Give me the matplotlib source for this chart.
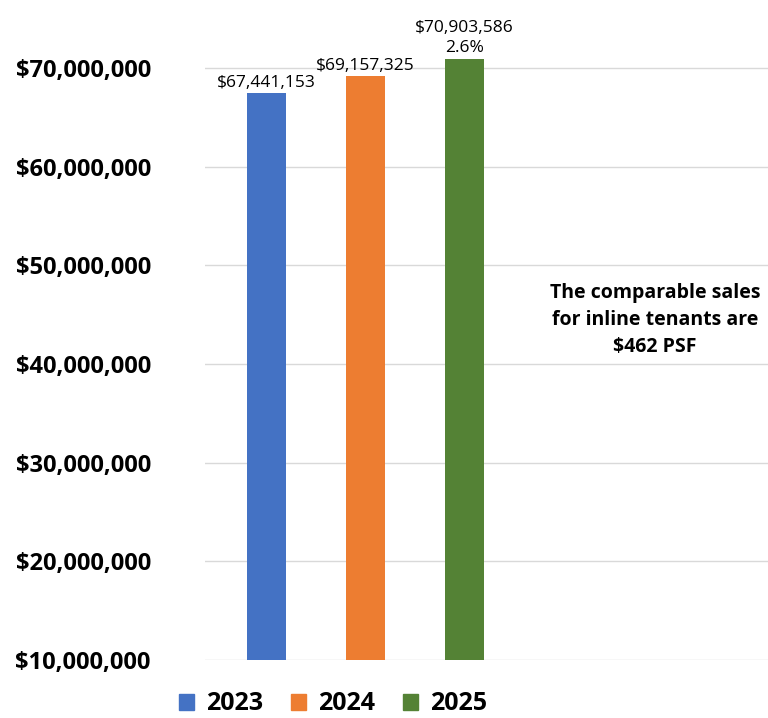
import matplotlib
matplotlib.use("Agg")
import matplotlib.pyplot as plt
from matplotlib.patches import Patch
from matplotlib.ticker import FuncFormatter

years = ["2023", "2024", "2025"]
values = [67441153, 69157325, 70903586]
labels = ["$67,441,153", "$69,157,325", "$70,903,586\n2.6%"]
colors = ["#4472C4", "#ED7D31", "#548235"]
yticks = [10000000, 20000000, 30000000, 40000000, 50000000, 60000000, 70000000]
note = "The comparable sales\nfor inline tenants are\n$462 PSF"

plt.rcParams['font.family'] = ['Open Sans', 'DejaVu Sans']

fig = plt.figure(figsize=(7.68, 7.18), dpi=100)
ax = fig.add_axes([205/768, 1-660/718, 1-205/768, 660/718])

xs = list(range(len(years)))
ax.bar(xs, values, width=0.39, color=colors, zorder=3)
ax.set_ylim(10000000, 76900000)
ax.set_xlim(-0.621, 5.066)
ax.set_yticks(yticks)
ax.yaxis.set_major_formatter(FuncFormatter(lambda v, p: f"${v:,.0f}"))
ax.set_xticks([])
for lab in ax.get_yticklabels():
    lab.set_fontweight("bold")
    lab.set_fontsize(17)
ax.tick_params(axis='y', length=0, pad=39)
ax.grid(axis='y', color='#d9d9d9', linewidth=1, zorder=0)
for s in ax.spines.values():
    s.set_visible(False)

for x, v, t in zip(xs, values, labels):
    ax.annotate(t, (x, v), xytext=(0, 2), textcoords='offset points',
                ha='center', va='bottom', fontsize=12.5, linespacing=1.4)

ax.text(655/768, 1-320/718, note, transform=fig.transFigure, ha='center', va='center',
        fontsize=14, fontweight='bold', linespacing=1.45)

handles = [Patch(color=c, label=y) for c, y in zip(colors, years)]
fig.legend(handles=handles, loc='center', bbox_to_anchor=(333/768, 1-704/718), ncol=3,
           frameon=False, prop={'weight': 'bold', 'size': 18}, handlelength=0.6,
           handleheight=0.6, columnspacing=1.1, handletextpad=0.5,
           borderpad=0, borderaxespad=0)

fig.savefig("out.png", dpi=100)
